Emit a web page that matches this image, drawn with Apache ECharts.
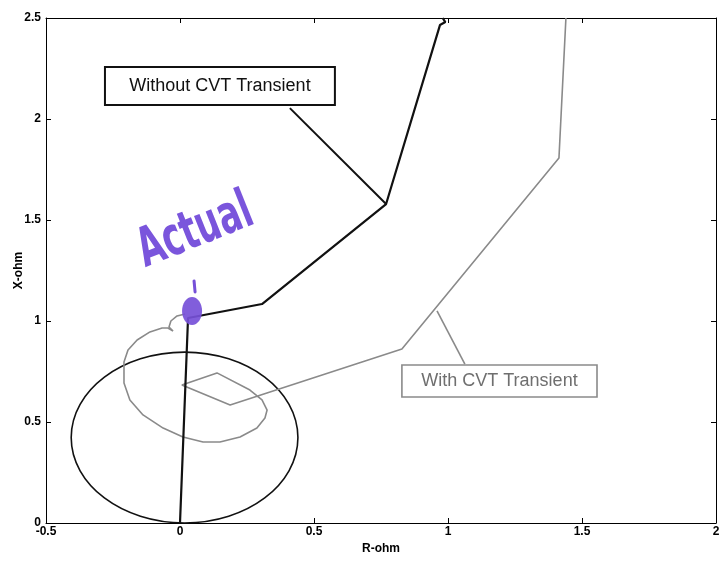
<!DOCTYPE html>
<html>
<head>
<meta charset="utf-8">
<script src="https://cdn.jsdelivr.net/npm/echarts@6/dist/echarts.min.js"></script>
<style>
  html, body { margin: 0; padding: 0; background: #fff; }
  #main { width: 727px; height: 571px; }
</style>
</head>
<body>
<div id="main"></div>
<script>
// impedance trajectory without CVT transient (R, X in ohm)
const withoutR = [0, 0.03, 0.306, 0.769, 0.97, 0.99, 0.98];
const withoutX = [0, 1.015, 1.084, 1.579, 2.465, 2.48, 2.5];

// impedance trajectory with CVT transient
const withR = [0.019, -0.011, -0.034, -0.041, -0.026, -0.045, -0.067, -0.112, -0.160, -0.194,
  -0.209, -0.209, -0.187, -0.138, -0.063, 0.011, 0.086, 0.149, 0.224, 0.287,
  0.317, 0.325, 0.306, 0.261, 0.138, 0.007, 0.187, 0.828, 1.414, 1.440];
const withX = [1.035, 1.025, 1.0, 0.970, 0.950, 0.965, 0.965, 0.946, 0.906, 0.856,
  0.797, 0.693, 0.609, 0.535, 0.470, 0.426, 0.401, 0.401, 0.426, 0.470,
  0.520, 0.559, 0.609, 0.658, 0.743, 0.683, 0.584, 0.861, 1.807, 2.5];

// mho characteristic: centre and radius
const mhoCenter = [0.017, 0.423];
const mhoRadius = 0.423;

const xMin = -0.5, xMax = 2, yMin = 0, yMax = 2.5, step = 0.5;

function zip(a, b) {
  return a.map(function (v, i) { return [v, b[i]]; });
}

const labelFont = { color: '#000', fontSize: 12, fontWeight: 'bold', fontFamily: 'Liberation Sans, Arial, sans-serif' };

let chart = echarts.init(document.getElementById('main'));
chart.setOption({
  backgroundColor: '#fff',
  animation: false,
  grid: { left: 46, right: 11, top: 18, bottom: 48, outerBoundsMode: 'none', containLabel: false },
  xAxis: [
    {
      type: 'value', min: xMin, max: xMax, interval: step, position: 'bottom',
      name: 'R-ohm', nameLocation: 'middle', nameGap: 20, nameMoveOverlap: false,
      nameTextStyle: labelFont,
      axisLine: { show: true, onZero: false, lineStyle: { color: '#000', width: 1 } },
      axisTick: { show: true, inside: true, length: 5, lineStyle: { color: '#000' } },
      axisLabel: Object.assign({ margin: 3 }, labelFont),
      splitLine: { show: false }
    },
    {
      type: 'value', min: xMin, max: xMax, interval: step, position: 'top',
      axisLine: { show: true, onZero: false, lineStyle: { color: '#000', width: 1 } },
      axisTick: { show: true, inside: true, length: 5, lineStyle: { color: '#000' } },
      axisLabel: { show: false },
      splitLine: { show: false }
    }
  ],
  yAxis: [
    {
      type: 'value', min: yMin, max: yMax, interval: step, position: 'left',
      name: 'X-ohm', nameLocation: 'middle', nameGap: 21, nameRotate: 90, nameMoveOverlap: false,
      nameTextStyle: labelFont,
      axisLine: { show: true, onZero: false, lineStyle: { color: '#000', width: 1 } },
      axisTick: { show: true, inside: true, length: 5, lineStyle: { color: '#000' } },
      axisLabel: Object.assign({ margin: 5 }, labelFont),
      splitLine: { show: false }
    },
    {
      type: 'value', min: yMin, max: yMax, interval: step, position: 'right',
      axisLine: { show: true, onZero: false, lineStyle: { color: '#000', width: 1 } },
      axisTick: { show: true, inside: true, length: 5, lineStyle: { color: '#000' } },
      axisLabel: { show: false },
      splitLine: { show: false }
    }
  ],
  series: [
    {
      name: 'Mho',
      type: 'custom',
      data: [[mhoCenter[0], mhoCenter[1], mhoRadius]],
      encode: { x: 0, y: 1 },
      renderItem: function (params, api) {
        let c = api.coord([api.value(0), api.value(1)]);
        let s = api.size([api.value(2), api.value(2)]);
        return {
          type: 'ellipse',
          shape: { cx: c[0], cy: c[1], rx: s[0], ry: s[1] },
          style: { fill: 'none', stroke: '#111', lineWidth: 1.6 }
        };
      },
      silent: true
    },
    {
      name: 'With CVT Transient',
      type: 'line',
      data: zip(withR, withX),
      showSymbol: false,
      lineStyle: { color: '#8a8a8a', width: 1.6 },
      z: 3
    },
    {
      name: 'Without CVT Transient',
      type: 'line',
      data: zip(withoutR, withoutX),
      showSymbol: false,
      lineStyle: { color: '#111', width: 2.2 },
      z: 4
    }
  ]
});

// annotations placed in data coordinates
function px(r, x) { return chart.convertToPixel({ gridIndex: 0 }, [r, x]); }

let b1a = px(-0.28, 2.257), b1b = px(0.578, 2.069);
let b2a = px(0.828, 0.782), b2b = px(1.556, 0.624);
let l1a = px(0.41, 2.054), l1b = px(0.769, 1.579);
let l2a = px(0.959, 1.05), l2b = px(1.063, 0.787);
let blob = px(0.045, 1.05);
let actual = px(0.058, 1.44);

chart.setOption({
  graphic: [
    { type: 'line', shape: { x1: l1a[0], y1: l1a[1], x2: l1b[0], y2: l1b[1] }, style: { stroke: '#111', lineWidth: 2 }, z: 10 },
    { type: 'rect', shape: { x: b1a[0], y: b1a[1], width: b1b[0] - b1a[0], height: b1b[1] - b1a[1] }, style: { fill: '#fff', stroke: '#111', lineWidth: 2 }, z: 11 },
    { type: 'text', x: (b1a[0] + b1b[0]) / 2, y: (b1a[1] + b1b[1]) / 2, style: { text: 'Without CVT Transient', fill: '#111', fontSize: 18, fontFamily: 'Liberation Sans, Arial, sans-serif', align: 'center', verticalAlign: 'middle' }, z: 12 },
    { type: 'line', shape: { x1: l2a[0], y1: l2a[1], x2: l2b[0], y2: l2b[1] }, style: { stroke: '#8a8a8a', lineWidth: 1.6 }, z: 10 },
    { type: 'rect', shape: { x: b2a[0], y: b2a[1], width: b2b[0] - b2a[0], height: b2b[1] - b2a[1] }, style: { fill: '#fff', stroke: '#8a8a8a', lineWidth: 1.6 }, z: 11 },
    { type: 'text', x: (b2a[0] + b2b[0]) / 2, y: (b2a[1] + b2b[1]) / 2, style: { text: 'With CVT Transient', fill: '#6f6f6f', fontSize: 18, fontFamily: 'Liberation Sans, Arial, sans-serif', align: 'center', verticalAlign: 'middle' }, z: 12 },
    // handwritten mark
    { type: 'ellipse', shape: { cx: blob[0], cy: blob[1], rx: 10, ry: 14 }, style: { fill: '#7650d8', opacity: 0.92 }, z: 20 },
    { type: 'line', shape: { x1: blob[0] + 2, y1: blob[1] - 30, x2: blob[0] + 3, y2: blob[1] - 19 }, style: { stroke: '#7650d8', lineWidth: 3, lineCap: 'round' }, z: 20 },
    { type: 'text', x: actual[0], y: actual[1], rotation: 0.38, scaleX: 0.62, style: { text: 'Actual', fill: '#7a55dc', fontSize: 54, fontWeight: 'bold', fontFamily: 'DejaVu Sans', align: 'center', verticalAlign: 'middle' }, z: 20 }
  ]
});
</script>
</body>
</html>
